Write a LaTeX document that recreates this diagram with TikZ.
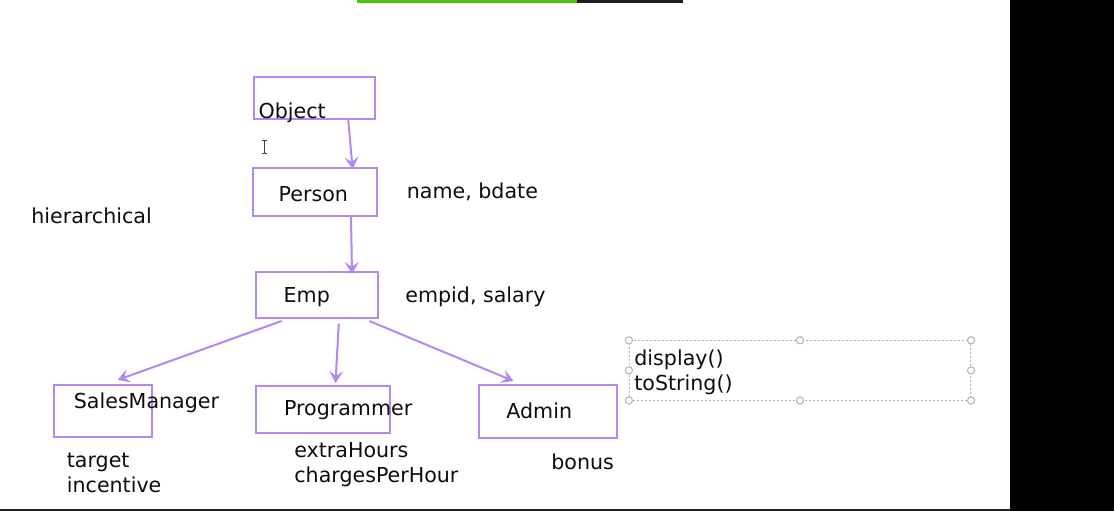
\documentclass[tikz,border=0pt]{standalone}
\usepackage{fontspec}
\setmainfont{DejaVu Sans}
\usepackage{xcolor}
\usetikzlibrary{arrows.meta}
\definecolor{umlpurple}{RGB}{178,136,242}
\definecolor{bargreen}{RGB}{76,196,10}
\definecolor{bardark}{RGB}{30,30,32}
\definecolor{edgedark}{RGB}{34,34,34}

\begin{document}
\begin{tikzpicture}[x={(0.5pt,0)}, y={(0,-0.5pt)}, font=\fontsize{10.3}{12}\selectfont,
	cls/.style={draw=umlpurple, line width=1pt, inner sep=0pt},
	txt/.style={anchor=base west, inner sep=0pt, text=black!95},
	inh/.style={draw=umlpurple, line width=1pt, -{Stealth[length=6pt,width=7pt,inset=2.5pt]}},
	handle/.style={draw=gray!60, fill=white, line width=0.5pt}] % pixel grid of the slide

	\useasboundingbox (0,0) rectangle (1114,511);
	\fill[white] (0,0) rectangle (1114,511);
	\fill[bargreen] (357,0) rectangle (577,3);
	\fill[bardark] (577,0) rectangle (683,3);
	\fill[black] (1010,0) rectangle (1114,511);
	\fill[edgedark] (0,508.7) rectangle (1010,511);

	\node[cls, minimum width=60.4pt, minimum height=21pt] (object) at (314.7,98) {};
	\node[cls, minimum width=61.7pt, minimum height=23.8pt] (person) at (315,192.2) {};
	\node[cls, minimum width=61.2pt, minimum height=23pt] (emp) at (317.2,295) {};
	\node[cls, minimum width=49pt, minimum height=25.8pt] (sales) at (103.3,410.9) {};
	\node[cls, minimum width=66.7pt, minimum height=23.7pt] (prog) at (323,409.7) {};
	\node[cls, minimum width=69.1pt, minimum height=26.7pt] (admin) at (548,411.7) {};

	\draw[inh] ([xshift=16.8pt]object.south) -- ([xshift=18.8pt,yshift=-0.8pt]person.north);
	\draw[inh] ([xshift=18pt]person.south) -- ([xshift=17.4pt,yshift=-1.5pt]emp.north);
	\draw[inh] ([xshift=-17.8pt,yshift=-1pt]emp.south) -- ([xshift=7.2pt,yshift=2.1pt]sales.north);
	\draw[inh] ([xshift=10.8pt,yshift=-2.3pt]emp.south) -- ([xshift=6.25pt,yshift=1pt]prog.north);
	\draw[inh] ([xshift=26.1pt,yshift=-1pt]emp.south) -- ([xshift=-17.25pt,yshift=1.5pt]admin.north);

	\node[txt] (objectname) at (258.3,118.3) {Object};
	\node[txt] (personname) at (278.3,201.5) {Person};
	\node[txt] (empname) at (283.3,302.7) {Emp};
	\node[txt] (salesname) at (73.5,408) {SalesManager};
	\node[txt] (progname) at (283.7,415) {Programmer};
	\node[txt] (adminname) at (506,418) {Admin};

	\node[txt] (personfields) at (406.5,198.7) {name, bdate};
	\node[txt] (empfields) at (405,302.5) {empid, salary};
	\node[txt] (hier) at (31,223.5) {hierarchical};
	\node[txt] (salesfirst) at (66.5,467.7) {target};
	\node[txt] (salessecond) at (66.5,492.7) {incentive};
	\node[txt] (progfirst) at (294,457.7) {extraHours};
	\node[txt] (progsecond) at (294,482.7) {chargesPerHour};
	\node[txt] (adminfield) at (551,469) {bonus};

	\node[draw=gray!60, dash pattern=on 1pt off 1pt, line width=0.4pt, inner sep=0pt,
		minimum width=170.7pt, minimum height=29.7pt] (methodbox) at (800,370.4) {};
	\foreach \a in {north west, north, north east, west, east, south west, south, south east}
		\draw[handle] (methodbox.\a) circle (1.8pt);
	\node[txt] (methodfirst) at (634,365.7) {display()};
	\node[txt] (methodsecond) at (634,390.5) {toString()};

	% text cursor
	\draw[black!75, line width=0.6pt] (264.5,140.5) -- (264.5,153.5);
	\draw[black!75, line width=0.6pt] (262.3,140.5) -- (266.7,140.5);
	\draw[black!75, line width=0.6pt] (262.3,153.5) -- (266.7,153.5);
\end{tikzpicture}
\end{document}
